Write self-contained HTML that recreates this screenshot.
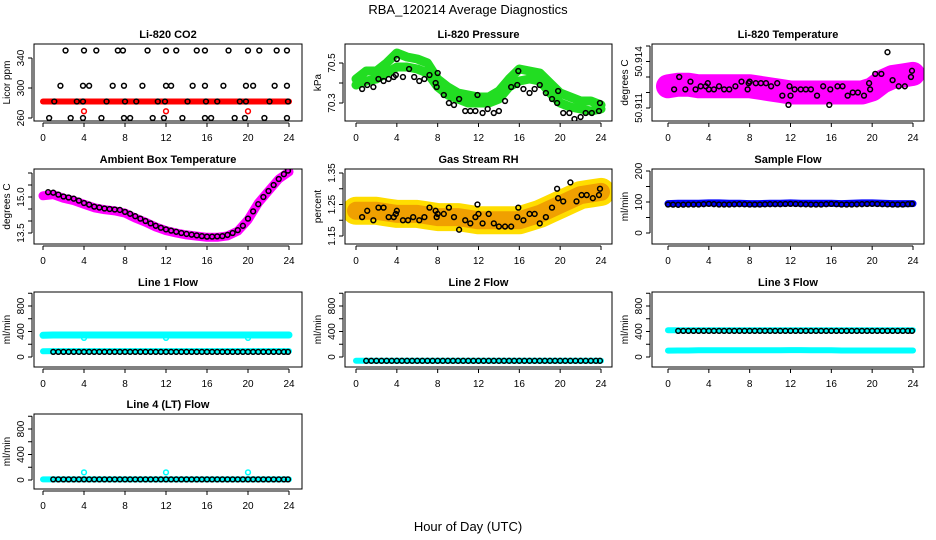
<!DOCTYPE html>
<html><head><meta charset="utf-8"><style>
html,body{margin:0;padding:0;background:#fff;}
svg{display:block;font-family:"Liberation Sans",Arial,sans-serif;}
</style></head><body>
<svg id="chart" width="936" height="540" viewBox="0 0 936 540" xmlns="http://www.w3.org/2000/svg">
<rect width="936" height="540" fill="#fff"/>
<text x="468" y="14" text-anchor="middle" font-size="13">RBA_120214  Average Diagnostics</text>
<text x="468" y="531" text-anchor="middle" font-size="13">Hour of Day (UTC)</text>
</svg>
<script>
// ---- data ----
const hours = [0,1,2,3,4,5,6,7,8,9,10,11,12,13,14,15,16,17,18,19,20,21,22,23,24];
const xTicks = [0,4,8,12,16,20,24];

const co2HiX = [2.2,4,5.2,7.3,7.8,10.2,12,13,15,15.8,18.1,20,21.1,22.8,23.8];
const co2HiY = [350,350,350,350,350,350,350,350,350,350,350,350,350,350,350];
const co2MidX = [1.7,3.9,4.5,6.8,7.9,9.7,12,12.5,14.6,15.8,17.6,19.8,20.5,22.6,23.8];
const co2MidY = [303,303,303,303,303,303,303,303,303,303,303,303,303,303,303];
const co2LoX = [1.1,3.3,3.9,6.2,8,9.1,11.2,11.9,14.1,15.9,17,19.2,19.8,22.1,23.9];
const co2LoY = [282,282,282,282,282,282,282,282,282,282,282,282,282,282,282];
const co2MinX = [0.6,2.7,3.9,5.7,7.9,8.5,10.7,11.8,13.6,15.8,16.4,18.7,19.7,21.6,23.8];
const co2MinY = [260,260,260,260,260,260,260,260,260,260,260,260,260,260,260];
const co2Red = [282,282,282,282,282,282,282,282,282,282,282,282,282,282,282,282,282,282,282,282,282,282,282,282,282];
const co2RedPtX = [4,12,20];
const co2RedPtY = [269,269,269];

const presUpper = [70.42,70.46,70.46,70.5,70.55,70.53,70.52,70.5,70.42,70.38,70.35,70.34,70.33,70.33,70.36,70.42,70.47,70.46,70.45,70.4,70.35,70.33,70.31,70.31,70.29];
const presLower = [70.39,70.41,70.42,70.45,70.48,70.48,70.47,70.45,70.38,70.34,70.32,70.30,70.30,70.30,70.32,70.38,70.41,70.42,70.41,70.35,70.30,70.28,70.27,70.26,70.27];
const presBX = [0.6,1.1,1.7,2.2,2.7,3.2,3.7,3.9,4.0,4.6,5.2,5.7,6.2,6.7,7.2,7.8,7.9,8.0,8.6,9.1,9.6,10.1,10.7,11.2,11.7,11.9,12.4,12.9,13.5,14.0,14.6,15.2,15.8,15.9,16.4,17.0,17.5,18.0,18.6,19.2,19.7,19.8,20.3,20.9,21.4,22.0,22.5,23.1,23.8,23.9];
const presBY = [70.37,70.39,70.38,70.42,70.41,70.42,70.43,70.44,70.52,70.43,70.47,70.43,70.41,70.42,70.44,70.40,70.38,70.45,70.34,70.30,70.29,70.32,70.26,70.26,70.26,70.34,70.25,70.27,70.25,70.26,70.31,70.38,70.39,70.46,70.37,70.35,70.37,70.39,70.35,70.32,70.30,70.36,70.25,70.25,70.22,70.23,70.25,70.25,70.26,70.30];

const tempBand = [50.9124,50.9125,50.9125,50.9124,50.9124,50.9124,50.9124,50.9124,50.9124,50.9123,50.9122,50.9121,50.9120,50.9120,50.9120,50.9120,50.9120,50.9120,50.9120,50.9120,50.9122,50.9127,50.9130,50.9131,50.9132];
const tempBX = [0.6,1.1,1.7,2.2,2.7,3.2,3.7,3.9,4.0,4.5,5.0,5.5,6.0,6.6,7.2,7.8,7.9,8.0,8.6,9.1,9.6,10.1,10.7,11.2,11.8,11.9,12.0,12.4,13.0,13.5,14.0,14.6,15.2,15.8,15.9,16.6,17.1,17.6,18.1,18.6,19.2,19.7,19.8,20.3,20.9,21.5,22.0,22.6,23.2,23.8,23.9];
const tempBY = [50.9122,50.9130,50.9122,50.9127,50.9122,50.9124,50.9124,50.9126,50.9122,50.9122,50.9124,50.9122,50.9122,50.9124,50.9127,50.9122,50.9126,50.9127,50.9126,50.9126,50.9126,50.9124,50.9126,50.9118,50.9112,50.9124,50.9118,50.9122,50.9122,50.9122,50.9122,50.9118,50.9124,50.9112,50.9122,50.9124,50.9124,50.9118,50.9120,50.9120,50.9118,50.9126,50.9122,50.9132,50.9132,50.9146,50.9128,50.9124,50.9124,50.9130,50.9134];

const ambBand = [15.05,15.1,14.95,14.85,14.7,14.55,14.47,14.42,14.33,14.12,13.95,13.75,13.6,13.5,13.42,13.37,13.32,13.32,13.38,13.58,14.05,14.75,15.25,15.75,16.05];
const ambBX = [0.5,1,1.5,2,2.5,3,3.5,4,4.5,5,5.5,6,6.5,7,7.5,8,8.5,9,9.5,10,10.5,11,11.5,12,12.5,13,13.5,14,14.5,15,15.5,16,16.5,17,17.5,18,18.5,19,19.5,20,20.5,21,21.5,22,22.5,23,23.5,23.9];
const ambBY = [15.2,15.18,15.1,15.02,14.98,14.93,14.85,14.75,14.68,14.6,14.56,14.52,14.5,14.48,14.46,14.38,14.3,14.2,14.1,14.0,13.9,13.8,13.72,13.65,13.6,13.55,13.5,13.46,13.43,13.4,13.37,13.35,13.35,13.36,13.37,13.42,13.5,13.62,13.8,14.1,14.4,14.7,15.0,15.25,15.5,15.75,15.95,16.1];

const rhBand = [1.23,1.23,1.23,1.225,1.22,1.22,1.22,1.215,1.21,1.21,1.21,1.205,1.2,1.2,1.2,1.2,1.2,1.21,1.22,1.235,1.25,1.265,1.28,1.285,1.29];
const rhBX = [0.6,1.1,1.7,2.2,2.7,3.2,3.7,3.9,4.0,4.6,5.1,5.6,6.2,6.7,7.2,7.8,7.9,8.0,8.6,9.1,9.6,10.1,10.7,11.2,11.7,11.9,12.0,12.4,13.0,13.5,14.0,14.6,15.2,15.8,15.9,16.4,17.0,17.5,18.0,18.6,19.2,19.7,19.8,20.3,21.0,21.6,22.1,22.6,23.2,23.8,23.9];
const rhBY = [1.21,1.23,1.2,1.24,1.24,1.21,1.21,1.22,1.23,1.2,1.2,1.21,1.2,1.21,1.24,1.23,1.21,1.22,1.22,1.24,1.21,1.17,1.2,1.19,1.21,1.25,1.22,1.19,1.22,1.19,1.18,1.18,1.18,1.21,1.24,1.2,1.22,1.22,1.19,1.21,1.24,1.3,1.27,1.26,1.32,1.26,1.28,1.28,1.27,1.28,1.3];

const sampleBand = [95,96,96,96,97,97,96,96,95,95,96,96,97,96,96,96,96,95,96,97,97,96,95,95,95];
const sampleBlack = [92,91,92,92,94,92,92,93,92,92,93,93,94,93,92,92,94,92,92,93,94,93,92,92,94];

const line1Upper = [340,345,345,345,345,345,345,345,345,345,345,345,345,345,345,345,345,345,345,345,345,345,345,345,345];
const line1Lower = [90,92,92,92,92,92,92,92,92,92,92,92,92,92,92,92,92,92,92,92,92,92,92,92,92];
const line1Black = [null,80,80,80,80,80,80,80,80,80,80,80,80,80,80,80,80,80,80,80,80,80,80,80,80];
const line1DipX = [4,12,20];
const line1DipY = [300,300,300];

const line2Cyan = [-60,-60,-60,-60,-60,-60,-60,-60,-60,-60,-60,-60,-60,-60,-60,-60,-60,-60,-60,-60,-60,-60,-60,-60,-60];
const line2Black = [null,-60,-60,-60,-60,-60,-60,-60,-60,-60,-60,-60,-60,-60,-60,-60,-60,-60,-60,-60,-60,-60,-60,-60,-60];

const line3Upper = [420,420,420,420,420,420,420,420,420,420,420,420,420,420,420,420,420,420,420,420,420,420,420,420,420];
const line3Black = [null,410,410,410,410,410,410,410,410,410,410,410,410,410,410,410,410,410,410,410,410,410,410,410,410];
const line3Lower = [100,102,102,105,105,105,105,105,105,105,105,105,108,108,105,105,105,102,102,102,102,102,102,102,102];

const line4Cyan = [10,10,10,10,10,10,10,10,10,10,10,10,10,10,10,10,10,10,10,10,10,10,10,10,10];
const line4Black = [null,10,10,10,10,10,10,10,10,10,10,10,10,10,10,10,10,10,10,10,10,10,10,10,10];
const line4SpikeX = [4,12,20];
const line4SpikeY = [120,120,120];

// ---- rendering ----
const NS = "http://www.w3.org/2000/svg";
const svg = document.getElementById('chart');
const cols = [{L:34,R:302,x0:43,x24:289},{L:345,R:612,x0:356,x24:601},{L:652,R:924,x0:668,x24:913}];
const rows = [{T:44,B:121},{T:169,B:244},{T:292,B:367},{T:414,B:489}];

function mk(tag, attrs, parent){
  const e = document.createElementNS(NS, tag);
  for (const k in attrs) e.setAttribute(k, attrs[k]);
  (parent||svg).appendChild(e);
  return e;
}
function makePanel(name, title, ci, ri, v1, p1, v2, p2, yticks, ylabels, ylab){
  const c = cols[ci], r = rows[ri];
  const g = mk('g', {});
  
  
  const xs = h => c.x0 + (c.x24 - c.x0) * h / 24;
  const ys = v => p1 + (v - v1) * (p2 - p1) / (v2 - v1);
  const t = mk('text', {x:(c.L+c.R)/2, y:r.T-6, 'text-anchor':'middle', 'font-size':'11', 'font-weight':'bold'}, g);
  t.textContent = title;
  
  
  const clip = mk('clipPath', {id:'clip-'+name}, g);
  mk('rect', {x:c.L, y:r.T, width:c.R-c.L, height:r.B-r.T}, clip);
  const plot = mk('g', {'clip-path':'url(#clip-'+name+')'}, g);
  
  
  const box = mk('rect', {x:c.L, y:r.T, width:c.R-c.L, height:r.B-r.T, fill:'none', stroke:'#000', 'stroke-width':'1'}, g);
  
  
  const xa = mk('g', {}, g);
  
  
  mk('line', {x1:xs(0), x2:xs(24), y1:r.B+2, y2:r.B+2, stroke:'#000'}, xa);
  xTicks.forEach(h => {
    mk('line', {x1:xs(h), x2:xs(h), y1:r.B+2, y2:r.B+6, stroke:'#000'}, xa);
    const tl = mk('text', {x:xs(h), y:r.B+20, 'text-anchor':'middle', 'font-size':'10'}, xa);
    tl.textContent = h;
  });
  const ya = mk('g', {}, g);
  
  
  const py = yticks.map(ys);
  mk('line', {x1:c.L-2, x2:c.L-2, y1:Math.min(...py), y2:Math.max(...py), stroke:'#000'}, ya);
  yticks.forEach((v,i) => {
    mk('line', {x1:c.L-6, x2:c.L-2, y1:ys(v), y2:ys(v), stroke:'#000'}, ya);
    if (ylabels[i] !== '') {
      const tl = mk('text', {x:0, y:0, 'text-anchor':'middle', 'font-size':'10', transform:'translate('+(c.L-10)+','+ys(v)+') rotate(-90)'}, ya);
      tl.textContent = ylabels[i];
    }
  });
  const yl = mk('text', {x:0, y:0, 'text-anchor':'middle', 'font-size':'10', transform:'translate('+(c.L-24)+','+((r.T+r.B)/2)+') rotate(-90)'}, g);
  yl.textContent = ylab;
  
  
  return {xs, ys, plot};
}
function band(P, name, xsArr, vals, color, width){
  let d = '';
  vals.forEach((v,i) => { if (v===null) return; d += (d?'L':'M') + P.xs(xsArr[i]).toFixed(1) + ',' + P.ys(v).toFixed(1); });
  const p = mk('path', {d:d, fill:'none', stroke:color, 'stroke-width':width, 'stroke-linecap':'round', 'stroke-linejoin':'round'}, P.plot);
  
  
}
function pts(P, name, xArr, yArr, color){
  const g = mk('g', {}, P.plot);
  
  
  xArr.forEach((x,i) => {
    if (yArr[i]===null) return;
    mk('circle', {cx:P.xs(x), cy:P.ys(yArr[i]), r:2.4, fill:'none', stroke:color, 'stroke-width':1.5}, g);
  });
}
function densePts(P, name, xArr, yArr, color){
  const g = mk('g', {}, P.plot);
  
  
  for (let i=0;i<xArr.length-1;i++){
    if (yArr[i]===null || yArr[i+1]===null) continue;
    for (let k=0;k<2;k++){
      const h = xArr[i] + k*0.5, v = yArr[i] + (yArr[i+1]-yArr[i])*k/2;
      mk('circle', {cx:P.xs(h), cy:P.ys(v), r:2.4, fill:'none', stroke:color, 'stroke-width':1.5}, g);
    }
  }
  const last = xArr.length-1;
  mk('circle', {cx:P.xs(23.9), cy:P.ys(yArr[last]), r:2.4, fill:'none', stroke:color, 'stroke-width':1.5}, g);
}

let P = makePanel('co2','Li-820 CO2',0,0,260,118,340,58,[260,300,340],['260','300','340'],'Licor ppm');
band(P,'co2-red-band',hours,co2Red,'#ff0000',6);
pts(P,'co2-red-points',co2RedPtX,co2RedPtY,'#ff0000');
pts(P,'co2-black-high',co2HiX,co2HiY,'#000');
pts(P,'co2-black-mid',co2MidX,co2MidY,'#000');
pts(P,'co2-black-low',co2LoX,co2LoY,'#000');
pts(P,'co2-black-min',co2MinX,co2MinY,'#000');

P = makePanel('pressure','Li-820 Pressure',1,0,70.3,103,70.5,63,[70.3,70.4,70.5],['70.3','','70.5'],'kPa');
band(P,'pressure-green-upper',hours,presUpper,'#22dd22',9);
band(P,'pressure-green-lower',hours,presLower,'#22dd22',9);
pts(P,'pressure-black-points',presBX,presBY,'#000');

P = makePanel('licor-temp','Li-820 Temperature',2,0,50.911,108,50.915,46,[50.911,50.912,50.913,50.914,50.915],['50.911','','','50.914',''],'degrees C');
band(P,'licor-temp-magenta-band',hours,tempBand,'#ff00ff',24);
pts(P,'licor-temp-black-points',tempBX,tempBY,'#000');

P = makePanel('ambient','Ambient Box Temperature',0,1,13.5,233,15.0,197,[13.5,14.0,14.5,15.0,15.5,16.0],['13.5','','','15.0','',''],'degrees C');
band(P,'ambient-magenta-band',hours,ambBand,'#ff00ff',9);
pts(P,'ambient-black-points',ambBX,ambBY,'#000');

P = makePanel('rh','Gas Stream RH',1,1,1.15,236,1.35,173,[1.15,1.20,1.25,1.30,1.35],['1.15','','1.25','','1.35'],'percent');
band(P,'rh-yellow-band',hours,rhBand,'#ffdd00',28);
band(P,'rh-orange-band',hours,rhBand,'#f0a000',18);
pts(P,'rh-black-points',rhBX,rhBY,'#000');

P = makePanel('sample-flow','Sample Flow',2,1,0,233,200,171,[0,50,100,150,200],['0','','100','','200'],'ml/min');
band(P,'sample-flow-blue-band',hours,sampleBand,'#0000ff',7);
densePts(P,'sample-flow-black-points',hours,sampleBlack,'#000');

const flowTicks = [0,200,400,600,800,1000], flowLabels = ['0','','400','','800',''];
P = makePanel('line1','Line 1 Flow',0,2,0,357,800,306,flowTicks,flowLabels,'ml/min');
band(P,'line1-cyan-upper',hours,line1Upper,'#00ffff',7);
band(P,'line1-cyan-lower',hours,line1Lower,'#00ffff',6);
pts(P,'line1-cyan-dips',line1DipX,line1DipY,'#00ffff');
densePts(P,'line1-black-points',hours,line1Black,'#000');

P = makePanel('line2','Line 2 Flow',1,2,0,357,800,306,flowTicks,flowLabels,'ml/min');
band(P,'line2-cyan-band',hours,line2Cyan,'#00ffff',6);
densePts(P,'line2-black-points',hours,line2Black,'#000');

P = makePanel('line3','Line 3 Flow',2,2,0,357,800,306,flowTicks,flowLabels,'ml/min');
band(P,'line3-cyan-upper',hours,line3Upper,'#00ffff',6);
band(P,'line3-cyan-lower',hours,line3Lower,'#00ffff',6);
densePts(P,'line3-black-points',hours,line3Black,'#000');

P = makePanel('line4','Line 4 (LT) Flow',0,3,0,480,800,429,flowTicks,flowLabels,'ml/min');
band(P,'line4-cyan-band',hours,line4Cyan,'#00ffff',6);
pts(P,'line4-cyan-spikes',line4SpikeX,line4SpikeY,'#00ffff');
densePts(P,'line4-black-points',hours,line4Black,'#000');
</script>
</body></html>
